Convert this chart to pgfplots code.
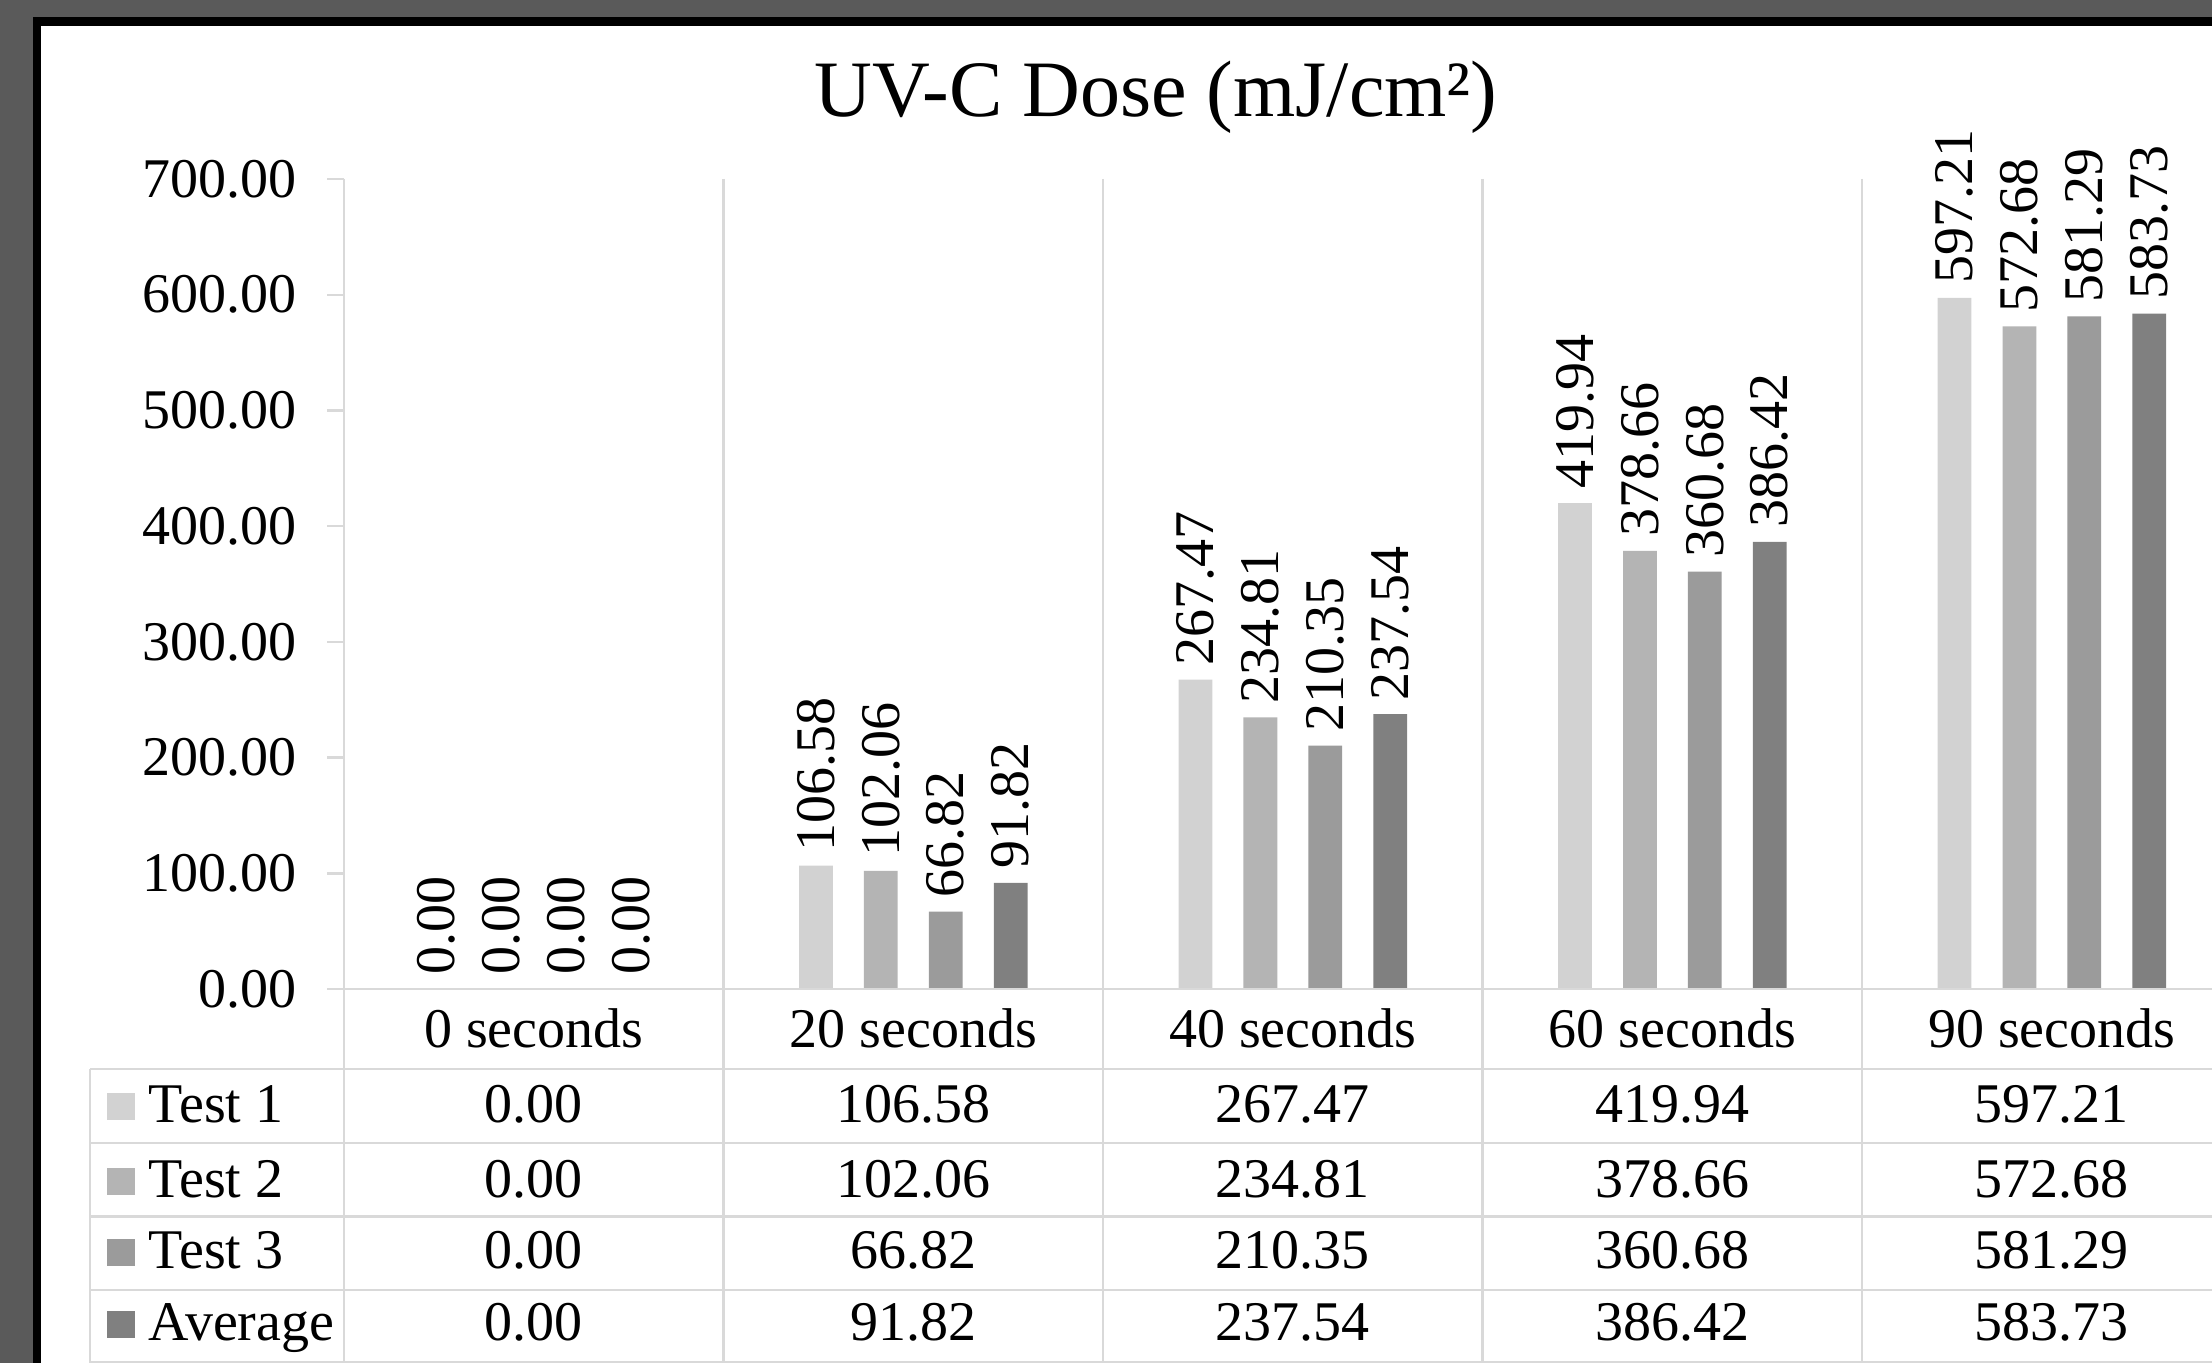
\documentclass[border=0pt]{standalone}
\usepackage{pgfplots}
\usepackage{pgfplotstable}
\pgfplotsset{compat=1.18}
\usepackage{fontspec}
\setmainfont{Liberation Serif}
\definecolor{frameg}{RGB}{90,90,90}
\definecolor{gridc}{RGB}{217,217,217}
\definecolor{cA}{RGB}{210,210,210}
\definecolor{cB}{RGB}{180,180,180}
\definecolor{cC}{RGB}{155,155,155}
\definecolor{cD}{RGB}{128,128,128}
\newcommand{\tf}{\fontsize{14}{16.8}\selectfont}
\pgfkeys{/pgf/number format/.cd, fixed, fixed zerofill, precision=2, assume math mode=true}
\pgfplotstableread{
x t1 t2 t3 avg
0 0 0 0 0
1 106.58 102.06 66.82 91.82
2 267.47 234.81 210.35 237.54
3 419.94 378.66 360.68 386.42
4 597.21 572.68 581.29 583.73
}\datatable
\begin{document}
\begin{tikzpicture}
\path[use as bounding box] (0,0) rectangle (553pt,340.75pt);
\clip (0,0) rectangle (553pt,340.75pt);
\fill[frameg] (0,0) rectangle (553pt,340.75pt);
\fill[black] (8.25pt,0) rectangle (553pt,336.5pt);
\fill[white] (10.25pt,0) rectangle (553pt,334.25pt);
% vertical separators
\foreach \k in {0,...,4}
  \draw[gridc, line width=0.6pt] ({86pt+\k*94.875pt},296pt) -- ({86pt+\k*94.875pt},0pt);
% table left border
\draw[gridc, line width=0.6pt] (22.5pt,73.5pt) -- (22.5pt,0pt);
% horizontal table lines
\foreach \yy in {73.5pt,55pt,36.6pt,18.25pt,0.3pt}
  \draw[gridc, line width=0.6pt] (22.5pt,\yy) -- (553pt,\yy);
\begin{axis}[
  at={(86pt,93.5pt)}, anchor=south west,
  scale only axis, width=467pt, height=202.5pt,
  xmin=-0.5, xmax=4.422, ymin=0, ymax=700,
  axis lines*=left,
  x axis line style={draw=none},
  y axis line style={draw=gridc, line width=0.6pt},
  xtick=\empty,
  ytick={0,100,...,700},
  tick align=outside,
  major tick length=4.25pt,
  ytick style={draw=gridc, line width=0.6pt},
  yticklabel style={font=\tf, xshift=-4pt},
  ybar, bar width=0.089,
  clip=false,
  nodes near coords,
  every node near coord/.append style={rotate=90, anchor=west, font=\tf, text=black},
]
\addplot[fill=cA, draw=none, bar shift=-0.2565] table[x=x,y=t1]{\datatable};
\addplot[fill=cB, draw=none, bar shift=-0.0855] table[x=x,y=t2]{\datatable};
\addplot[fill=cC, draw=none, bar shift=0.0855] table[x=x,y=t3]{\datatable};
\addplot[fill=cD, draw=none, bar shift=0.2565] table[x=x,y=avg]{\datatable};
\end{axis}
% x axis line
\draw[gridc, line width=0.6pt] (81.75pt,93.5pt) -- (553pt,93.5pt);
% title
\node[font=\fontsize{20}{24}\selectfont, anchor=base] at (289pt,311.5pt) {UV-C Dose (mJ/cm²)};
% category labels
\foreach \i/\lab in {0/0 seconds,1/20 seconds,2/40 seconds,3/60 seconds,4/90 seconds}
  \node[font=\tf, anchor=base] at ({86pt+(\i+0.5)*94.875pt},79pt) {\lab};
% table values
\foreach \i/\a/\b/\c/\d in {0/0.00/0.00/0.00/0.00, 1/106.58/102.06/66.82/91.82, 2/267.47/234.81/210.35/237.54, 3/419.94/378.66/360.68/386.42, 4/597.21/572.68/581.29/583.73} {
  \node[font=\tf, anchor=base] at ({86pt+(\i+0.5)*94.875pt},60.25pt) {\a};
  \node[font=\tf, anchor=base] at ({86pt+(\i+0.5)*94.875pt},41.5pt) {\b};
  \node[font=\tf, anchor=base] at ({86pt+(\i+0.5)*94.875pt},23.75pt) {\c};
  \node[font=\tf, anchor=base] at ({86pt+(\i+0.5)*94.875pt},5.75pt) {\d};
}
% row labels
\foreach \yy/\cc/\tt in {60.25pt/cA/Test 1, 41.5pt/cB/Test 2, 23.75pt/cC/Test 3, 5.75pt/cD/Average} {
  \fill[\cc] (26.75pt,{\yy+0.5pt}) rectangle ++(7pt,6.75pt);
  \node[font=\tf, anchor=base west, inner sep=0pt] at (37pt,\yy) {\tt};
}
\end{tikzpicture}
\end{document}
